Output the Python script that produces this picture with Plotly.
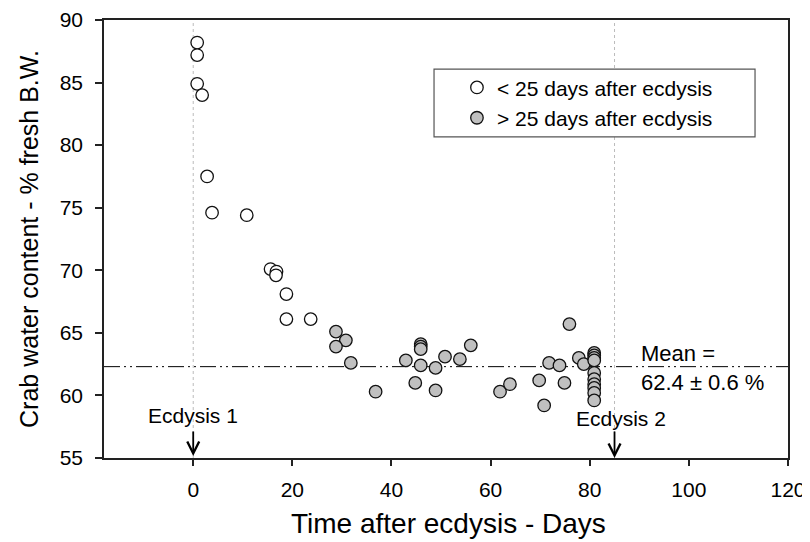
import plotly.graph_objects as go

# ---- data ----
young_days = [0.8, 0.8, 0.8, 1.8, 2.8, 3.8, 10.8, 15.6, 16.8, 16.7, 18.8, 18.8, 23.7]
young_water = [88.2, 87.2, 84.9, 84.0, 77.5, 74.6, 74.4, 70.1, 69.9, 69.6, 68.1, 66.1, 66.1]

old_days = [28.8, 30.8, 28.8, 31.8, 36.8, 42.9, 45.9, 45.9, 45.9, 45.9, 44.8, 48.9, 48.9,
            50.8, 53.8, 56.0, 61.9, 63.9, 69.8, 70.8, 71.8, 73.9, 74.9, 75.9, 77.8, 78.8,
            80.9, 80.9, 80.9, 80.9, 80.9, 80.9, 80.9, 80.9, 80.9, 80.9]
old_water = [65.1, 64.4, 63.9, 62.6, 60.3, 62.8, 64.1, 63.9, 63.7, 62.4, 61.0, 62.2, 60.4,
             63.1, 62.9, 64.0, 60.3, 60.9, 61.2, 59.2, 62.6, 62.4, 61.0, 65.7, 63.0, 62.5,
             63.4, 63.2, 63.0, 62.8, 61.8, 61.3, 60.9, 60.6, 60.2, 59.6]

mean_value = 62.3
ecdysis_days = [0, 85]
x_ticks = [0, 20, 40, 60, 80, 100, 120]
y_ticks = [55, 60, 65, 70, 75, 80, 85, 90]

FONT = "Liberation Sans, Arial, sans-serif"

fig = go.Figure()
fig.add_trace(go.Scatter(
    x=young_days, y=young_water, mode="markers", name="< 25 days after ecdysis",
    marker=dict(size=12.5, color="white", line=dict(color="#111111", width=1.3))))
fig.add_trace(go.Scatter(
    x=old_days, y=old_water, mode="markers", name="> 25 days after ecdysis",
    marker=dict(size=12.5, color="#c0c0c0", line=dict(color="#111111", width=1.3))))

# vertical dotted lines at ecdysis
for d in ecdysis_days:
    fig.add_shape(type="line", xref="x", yref="paper", x0=d, x1=d, y0=0, y1=1,
                  line=dict(color="#bbbbbb", width=1, dash="dot"), layer="below")

# mean line
fig.add_shape(type="line", xref="paper", yref="y", x0=0, x1=1, y0=mean_value, y1=mean_value,
              line=dict(color="black", width=1, dash="16px,4px,2px,4px,2px,4px"), layer="below")

# legend box
fig.add_shape(type="rect", xref="paper", yref="paper", x0=0.4825, x1=0.9518, y0=0.733, y1=0.888,
              line=dict(color="#555555", width=1.2), fillcolor="white", layer="below")

# annotations
fig.add_annotation(x=ecdysis_days[0], y=55, xref="x", yref="y", ax=0, ay=-28, text="",
                   showarrow=True, arrowhead=5, arrowsize=1.3, arrowwidth=1.8, arrowcolor="black",
                   standoff=2)
fig.add_annotation(x=ecdysis_days[1], y=55, xref="x", yref="y", ax=0, ay=-28, text="",
                   showarrow=True, arrowhead=5, arrowsize=1.3, arrowwidth=1.8, arrowcolor="black",
                   standoff=0)
fig.add_annotation(x=ecdysis_days[0], y=58.4, xref="x", yref="y", text="Ecdysis 1",
                   showarrow=False, font=dict(size=21, color="black", family=FONT))
fig.add_annotation(x=ecdysis_days[1] + 1.4, y=58.15, xref="x", yref="y", text="Ecdysis 2",
                   showarrow=False, font=dict(size=21, color="black", family=FONT))
fig.add_annotation(x=90, y=mean_value - 0.12, xref="x", yref="y", xanchor="left", yanchor="middle",
                   text="Mean =<br>62.4 ± 0.6 %", align="left", showarrow=False,
                   font=dict(size=22, color="black", family=FONT))
# x-axis title
fig.add_annotation(x=0.503, y=-0.15, xref="paper", yref="paper", xanchor="center", yanchor="middle",
                   text="Time after ecdysis - Days", showarrow=False,
                   font=dict(size=28, color="black", family=FONT))

fig.update_layout(
    width=810, height=534,
    margin=dict(l=96, r=30, t=12, b=84),
    paper_bgcolor="white", plot_bgcolor="white",
    font=dict(family=FONT, color="black"),
    showlegend=True,
    legend=dict(x=0.516, y=0.892, xanchor="left", yanchor="top", bgcolor="rgba(0,0,0,0)",
                borderwidth=0, font=dict(size=21, family=FONT, color="black")),
    xaxis=dict(range=[-18, 120], tickvals=x_ticks, showgrid=False, zeroline=False,
               showline=True, linecolor="#222222", linewidth=1.5, mirror=True,
               ticks="outside", ticklen=6, tickwidth=1.5, tickcolor="#222222",
               tickfont=dict(size=21, family=FONT), ticklabelstandoff=6, automargin=False),
    yaxis=dict(range=[55, 90], tickvals=y_ticks, showgrid=False, zeroline=False,
               showline=True, linecolor="#222222", linewidth=1.5, mirror=True,
               ticks="outside", ticklen=7, tickwidth=1.5, tickcolor="#222222",
               tickfont=dict(size=21, family=FONT), ticklabelstandoff=8, automargin=False,
               title=dict(text="Crab water content - % fresh B.W.", font=dict(size=25, family=FONT),
                          standoff=14)),
)

fig.write_html("out.html")
